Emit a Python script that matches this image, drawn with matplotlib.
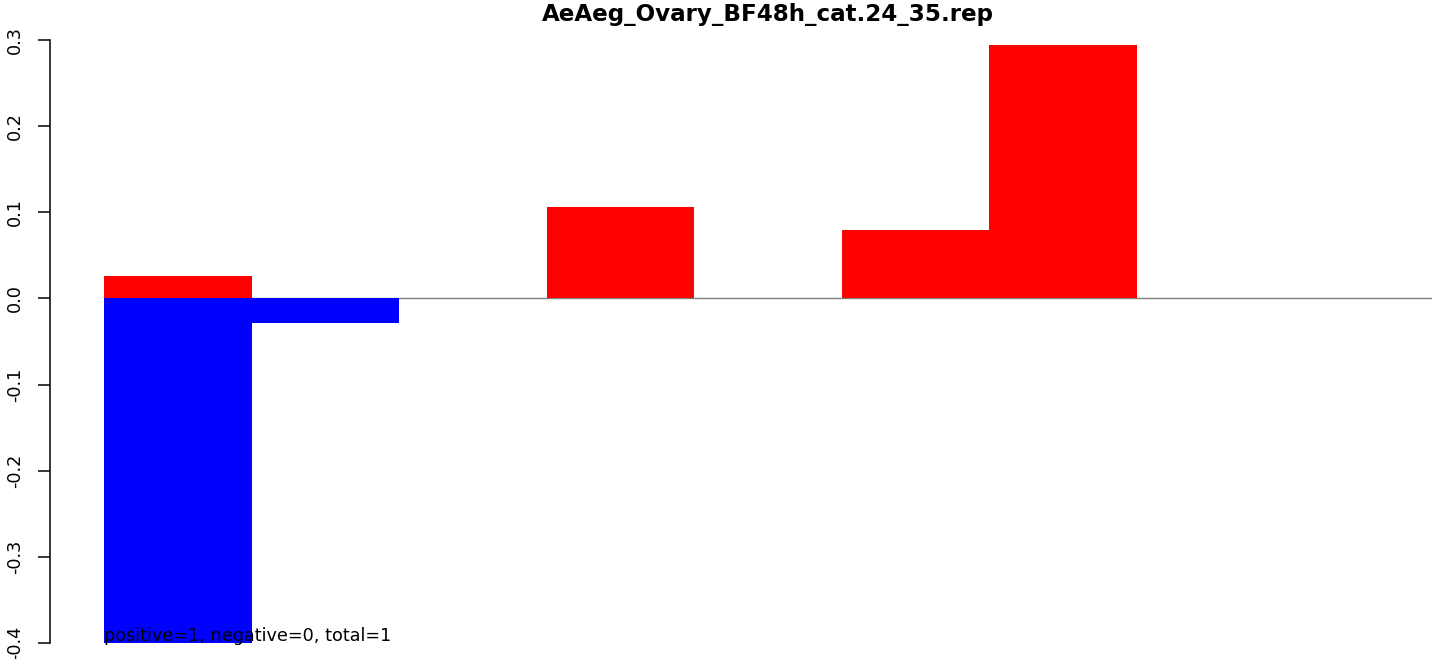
import matplotlib
matplotlib.use("Agg")
import matplotlib.pyplot as plt
import numpy as np

plt.rcParams['font.family'] = ['DejaVu Sans']

title = "AeAeg_Ovary_BF48h_cat.24_35.rep"
positive = [0.026, 0.0, 0.0, 0.106, 0.0, 0.079, 0.294, 0.0, 0.0]
negative = [-0.40, -0.028, 0.0, 0.0, 0.0, 0.0, 0.0, 0.0, 0.0]
yticks = [-0.4, -0.3, -0.2, -0.1, 0.0, 0.1, 0.2, 0.3]
note = "positive=1, negative=0, total=1"

W, H = 1444, 659
fig = plt.figure(figsize=(W/100, H/100), dpi=100)
top_px, bot_px = 40, 643
ax = fig.add_axes([104/W, (H-bot_px)/H, (1432-104)/W, (bot_px-top_px)/H])

n = len(positive)
x = np.arange(n)
ax.hlines(0, 0, n, color='#808080', lw=1.0, zorder=1)
ax.bar(x, positive, width=1.0, align='edge', color='#ff0000', zorder=2, linewidth=0)
ax.bar(x, negative, width=1.0, align='edge', color='#0000ff', zorder=2, linewidth=0)

ax.set_xlim(0, n)
ax.set_ylim(-0.4, 0.3)
for s in ['top', 'right', 'bottom']:
    ax.spines[s].set_visible(False)
ax.spines['left'].set_position(('outward', 54*0.72))
ax.spines['left'].set_bounds(-0.4, 0.3)
ax.spines['left'].set_linewidth(1.1)
ax.set_xticks([])
ax.set_yticks(yticks)
ax.set_yticklabels([f"{v:.1f}" for v in yticks], rotation=90, va='center', fontsize=12.7)
ax.tick_params(axis='y', length=8.6, width=1.1, pad=10)

fig.text(768/W, 1 - 21/H, title, ha='center', va='baseline', fontsize=16.6, fontweight='bold')

ax.text(0, -0.4 + 2/861, note, ha='left', va='baseline', fontsize=12.7, zorder=3)

fig.savefig("out.png", dpi=100)
